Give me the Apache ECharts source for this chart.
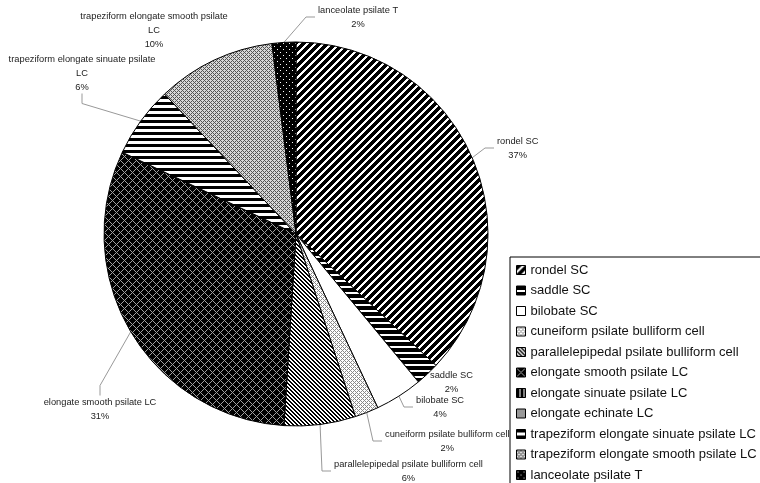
<!DOCTYPE html>
<html>
<head>
<meta charset="utf-8">
<script src="https://cdn.jsdelivr.net/npm/echarts@6/dist/echarts.min.js"></script>
<style>
html, body { margin: 0; padding: 0; background: #fff; }
#chart { width: 760px; height: 483px; }
</style>
</head>
<body>
<div id="chart"></div>
<script>
// Phytolith morphotype shares (%)
const categories = [
  'rondel SC',
  'saddle SC',
  'bilobate SC',
  'cuneiform psilate bulliform cell',
  'parallelepipedal psilate bulliform cell',
  'elongate smooth psilate LC',
  'elongate sinuate psilate LC',
  'elongate echinate LC',
  'trapeziform elongate sinuate psilate LC',
  'trapeziform elongate smooth psilate LC',
  'lanceolate psilate T'
];
const shares = [37, 2, 4, 2, 6, 31, 0, 0, 6, 10, 2];

// Monochrome fill patterns, one per morphotype
function tile(size, pick) {
  const c = document.createElement('canvas');
  c.width = size; c.height = size;
  const ctx = c.getContext('2d');
  for (let y = 0; y < size; y++) {
    for (let x = 0; x < size; x++) {
      ctx.fillStyle = pick(x, y);
      ctx.fillRect(x, y, 1, 1);
    }
  }
  return { image: c, repeat: 'repeat' };
}
const K = '#000', W = '#fff';
const fills = [
  tile(8, (x, y) => ((x + y) % 8 < 5 ? K : W)),                       // wide upward diagonal
  tile(6, (x, y) => (y % 6 < 4 ? K : W)),                             // horizontal stripes
  '#ffffff',                                                          // plain
  tile(4, (x, y) => (((x + y) % 4 === 0 || (x - y + 8) % 4 === 0) ? '#8a8a8a' : W)), // light lattice
  tile(4, (x, y) => ((x - y + 8) % 4 < 2 ? K : W)),                   // narrow downward diagonal
  tile(8, (x, y) => (((x + y) % 8 === 0 || (x - y + 16) % 8 === 0) ? '#a0a0a0' : K)), // dark lattice
  tile(4, (x, y) => (x % 4 === 3 ? W : K)),                           // vertical dark
  tile(2, (x, y) => ((x + y) % 2 === 0 ? '#555' : '#ddd')),           // checker
  tile(6, (x, y) => (y % 6 < 3 ? K : W)),                             // horizontal stripes
  tile(4, (x, y) => (((x + y) % 4 === 0 || (x - y + 8) % 4 === 0) ? '#555' : '#d8d8d8')), // grey lattice
  tile(6, (x, y) => (((x === 1 && y === 1) || (x === 4 && y === 4)) ? W : K)) // dotted black
];

const FONT = '"Liberation Sans", Arial, sans-serif';
const LABEL_SIZE = 9.3;

// Break long names so a label stays within a fixed width
const measure = document.createElement('canvas').getContext('2d');
measure.font = LABEL_SIZE + 'px ' + FONT;
function wrap(text, maxW) {
  const words = text.split(' ');
  const lines = [];
  let cur = '';
  words.forEach(w => {
    const t = cur ? cur + ' ' + w : w;
    if (cur && measure.measureText(t).width > maxW) { lines.push(cur); cur = w; }
    else cur = t;
  });
  if (cur) lines.push(cur);
  return lines;
}

// Where each slice's label sits and which side its leader line enters from
// (side 'left': x is the label's left edge; otherwise x is its centre)
const labelPlacement = {
  0:  { side: 'left',   x: 497, y: 148 },
  1:  { side: 'none',   x: 430, y: 382, align: 'left' },
  2:  { side: 'left',   x: 416, y: 407 },
  3:  { side: 'left',   x: 385, y: 441 },
  4:  { side: 'left',   x: 334, y: 471 },
  5:  { side: 'top',    x: 100, y: 409 },
  8:  { side: 'bottom', x: 82,  y: 73 },
  9:  { side: 'none',   x: 154, y: 30, align: 'center' },
  10: { side: 'left',   x: 318, y: 17 }
};

const data = categories.map((name, i) => {
  const item = { name, value: shares[i], itemStyle: { color: fills[i] } };
  const place = labelPlacement[i];
  if (shares[i] === 0) {
    item.label = { show: false };
    item.labelLine = { show: false };
  } else if (place && place.side === 'none') {
    item.labelLine = { show: false };
  }
  return item;
});

function placeLabel(params) {
  const place = labelPlacement[params.dataIndex];
  if (!place) return {};
  const h = params.labelRect.height;
  const start = params.labelLinePoints ? params.labelLinePoints[0] : null;
  const out = { verticalAlign: 'middle', x: place.x, y: place.y };
  let pts = null;
  if (place.side === 'none') {
    out.align = place.align;
  } else if (place.side === 'left') {
    out.align = 'left';
    if (start) {
      const end = [place.x - 3, place.y];
      pts = [start, [end[0] - 9, end[1]], end];
    }
  } else {
    out.align = 'center';
    if (start && place.side === 'top') {
      const end = [place.x, place.y - h / 2 - 2];
      pts = [start, [end[0], end[1] - 10], end];
    } else if (start && place.side === 'bottom') {
      const end = [place.x, place.y + h / 2 + 2];
      pts = [start, [end[0], end[1] + 10], end];
    }
  }
  if (pts) out.labelLinePoints = pts;
  return out;
}

const chart = echarts.init(document.getElementById('chart'), null, { renderer: 'canvas' });
chart.setOption({
  animation: false,
  backgroundColor: '#fff',
  textStyle: { fontFamily: FONT },
  legend: {
    orient: 'vertical',
    left: 510,
    top: 257,
    height: 260,
    padding: [6, 8, 6, 6],
    borderColor: '#000',
    borderWidth: 1,
    itemWidth: 9,
    itemHeight: 9,
    itemGap: 6.5,
    icon: 'rect',
    itemStyle: { borderColor: '#000', borderWidth: 1 },
    textStyle: { fontSize: 13, color: '#111', lineHeight: 14, fontFamily: FONT },
    data: categories
  },
  series: [{
    type: 'pie',
    center: [296, 234],
    radius: 192,
    startAngle: 90,
    clockwise: true,
    avoidLabelOverlap: false,
    itemStyle: { borderColor: '#000', borderWidth: 1 },
    label: {
      show: true,
      position: 'outside',
      overflow: 'none',
      fontSize: LABEL_SIZE,
      color: '#222',
      formatter: p => wrap(p.name, 155).concat(Math.round(p.percent) + '%').map(s => '{c|' + s + '}').join('\n'),
      rich: { c: { align: 'center', fontSize: LABEL_SIZE, lineHeight: 14, color: '#222', fontFamily: FONT } }
    },
    labelLine: {
      show: true,
      length: 14,
      length2: 12,
      lineStyle: { color: '#999', width: 1 }
    },
    labelLayout: placeLabel,
    emphasis: { disabled: true },
    data
  }]
});
</script>
</body>
</html>
